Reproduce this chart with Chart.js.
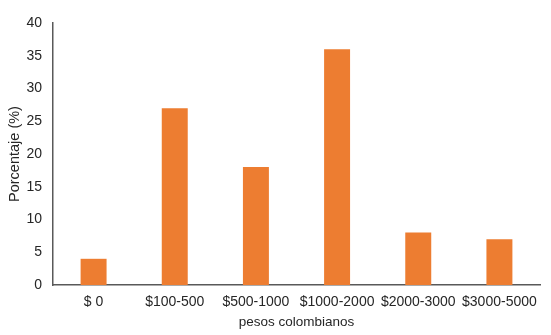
<!DOCTYPE html>
<html>
<head>
<meta charset="utf-8">
<script src="https://cdn.jsdelivr.net/npm/chart.js@4"></script>
<style>
  html, body { margin: 0; padding: 0; background: #fff; }
  #wrap { width: 551px; height: 335px; }
</style>
</head>
<body>
<div id="wrap"><canvas id="chartPesos"></canvas></div>
<script>
const categorias = ['$ 0', '$100-500', '$500-1000', '$1000-2000', '$2000-3000', '$3000-5000'];
const porcentajes = [4, 27, 18, 36, 8, 7];
const yTicks = [0, 5, 10, 15, 20, 25, 30, 35, 40];

const familia = '"Liberation Sans", Arial, sans-serif';

const ctx = document.getElementById('chartPesos').getContext('2d');
const myChart = new Chart(ctx, {
    type: 'bar',
    data: {
        labels: categorias,
        datasets: [{
            label: 'Porcentaje',
            data: porcentajes,
            backgroundColor: '#ED7D31',
            borderWidth: 0,
            barPercentage: 0.32,
            categoryPercentage: 1
        }]
    },
    options: {
        responsive: true,
        maintainAspectRatio: false,
        animation: false,
        layout: { padding: { top: 23, right: 11, left: 0, bottom: 0 } },
        plugins: {
            legend: { display: false },
            tooltip: { enabled: false }
        },
        scales: {
            x: {
                grid: { display: false, drawTicks: false },
                border: { display: true, color: '#595959', width: 1.5 },
                ticks: { color: '#262626', font: { family: familia, size: 14 }, padding: 9, maxRotation: 0, autoSkip: false },
                title: { display: true, text: 'pesos colombianos', color: '#262626', font: { family: familia, size: 13.5 }, padding: { top: 2, bottom: 5 } },
                afterFit: s => { s.height = 50; }
            },
            y: {
                min: 0,
                max: 40,
                afterBuildTicks: s => { s.ticks = yTicks.map(v => ({ value: v })); },
                grid: { display: false, drawTicks: false },
                border: { display: true, color: '#595959', width: 1.5 },
                ticks: { color: '#262626', font: { family: familia, size: 14 }, padding: 11 },
                title: { display: true, text: 'Porcentaje (%)', color: '#262626', font: { family: familia, size: 14.5 }, padding: { top: 6, bottom: 4 } },
                afterFit: s => { s.width = 53; }
            }
        }
    }
});
</script>
</body>
</html>
